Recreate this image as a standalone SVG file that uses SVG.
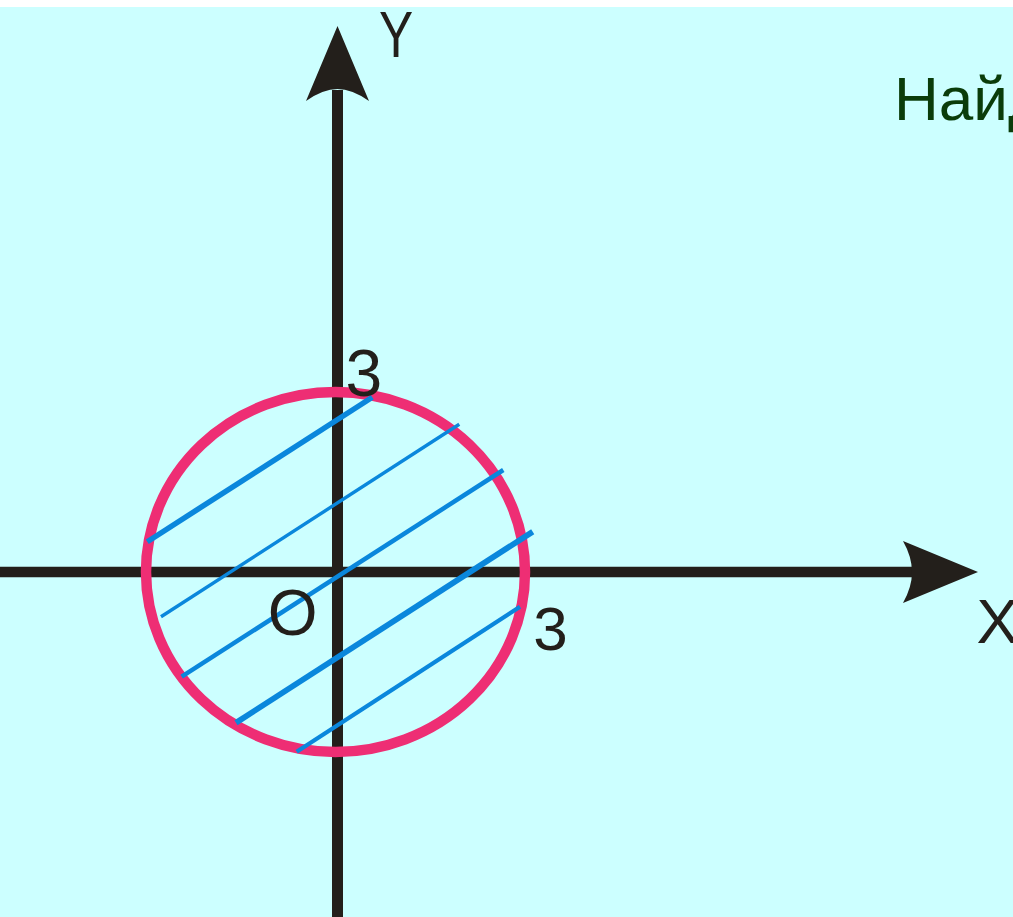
<svg xmlns="http://www.w3.org/2000/svg" width="1013" height="917" viewBox="0 0 1013 917">
<style>
.lbl{font-family:"Liberation Sans",Arial,sans-serif;fill:#231F1B}
.axis{stroke:#231F1B;fill:none}
.head{fill:#231F1B}
.hatch{stroke:#0A87DC;fill:none;stroke-linecap:butt}
</style>
<rect x="0" y="0" width="1013" height="917" fill="#FFFFFF"/>
<rect x="0" y="7" width="1013" height="910" fill="#CCFFFF"/>
<g id="axes">
<line class="axis" x1="0" y1="572" x2="912" y2="572" stroke-width="10.5"/>
<path class="head" d="M978,572 L903,541 Q912,557 912,572 Q912,587 903,603 Z"/>
<line class="axis" x1="337.5" y1="917" x2="337.5" y2="90" stroke-width="11"/>
<path class="head" d="M337.5,26 L369,101 Q352,89 337.5,89 Q323,89 306,101 Z"/>
</g>
<g id="circle">
<ellipse cx="335.5" cy="572" rx="189.5" ry="180" fill="none" stroke="#EE2E74" stroke-width="10.5"/>
</g>
<g id="hatching">
<line class="hatch" x1="147.3" y1="541.7" x2="372.3" y2="397.3" stroke-width="5.5"/>
<line class="hatch" x1="161" y1="616.7" x2="459.3" y2="424.3" stroke-width="3.4"/>
<line class="hatch" x1="181.7" y1="676.7" x2="503.3" y2="470" stroke-width="4.5"/>
<line class="hatch" x1="236" y1="722.7" x2="532.7" y2="531.7" stroke-width="5.8"/>
<line class="hatch" x1="296.7" y1="751.7" x2="520" y2="606.7" stroke-width="4.2"/>
</g>
<g id="labels">
<text class="lbl" transform="translate(379,57) scale(0.8,1)" font-size="64">Y</text>
<text class="lbl" x="976.5" y="643" font-size="63">X</text>
<text class="lbl" x="267.7" y="635" font-size="64">O</text>
<text class="lbl" x="345.5" y="396" font-size="66">3</text>
<text class="lbl" x="533.3" y="650" font-size="62">3</text>
<text x="894" y="120" font-size="62" font-family="'Liberation Sans',Arial,sans-serif" fill="#0A3C0A">Найд</text>
</g>
</svg>
